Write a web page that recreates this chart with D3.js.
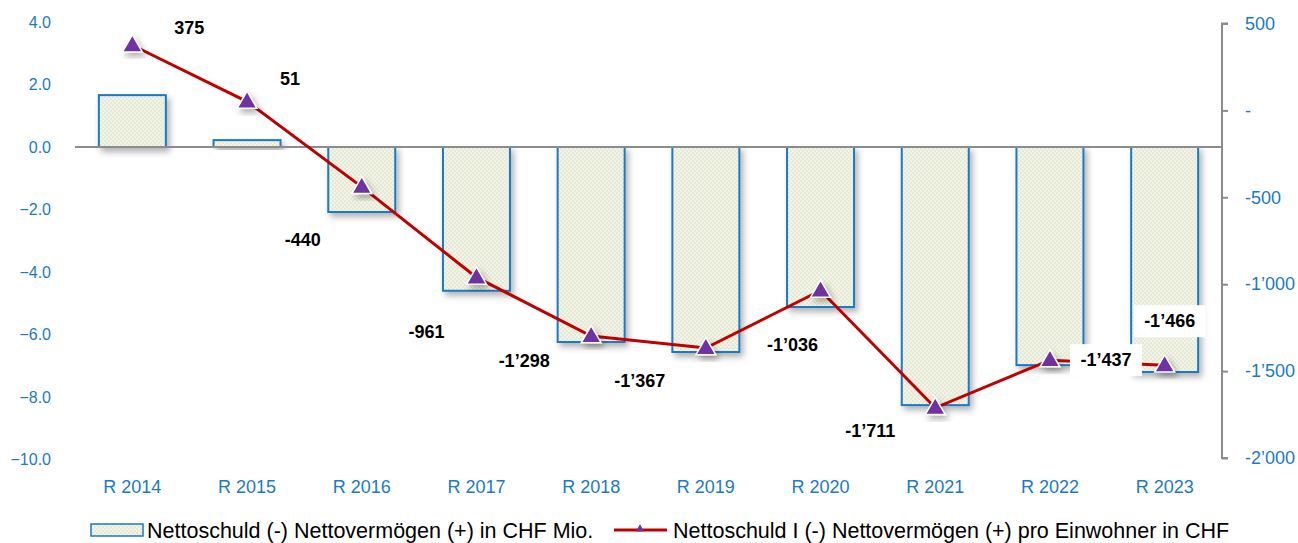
<!DOCTYPE html>
<html><head><meta charset="utf-8">
<script src="https://cdn.jsdelivr.net/npm/d3@7"></script>
<style>body{margin:0;background:#fff;font-family:"Liberation Sans",Arial,sans-serif;}</style>
</head><body>
<svg id="c" width="1298" height="543"></svg>
<script>
const categories = ["R 2014","R 2015","R 2016","R 2017","R 2018","R 2019","R 2020","R 2021","R 2022","R 2023"];
const barValues = [1.66, 0.22, -2.08, -4.6, -6.24, -6.56, -5.12, -8.26, -6.98, -7.2];
const lineValues = [375, 51, -440, -961, -1298, -1367, -1036, -1711, -1437, -1466];
const lineLabels = ["375","51","-440","-961","-1’298","-1’367","-1’036","-1’711","-1’437","-1’466"];
const leftTicks = [4, 2, 0, -2, -4, -6, -8, -10];
const rightTicks = [500, 0, -500, -1000, -1500, -2000];
const rightTickLabels = ["500","-","-500","-1’000","-1’500","-2’000"];
const seriesNames = ["Nettoschuld (-) Nettovermögen (+) in CHF Mio.","Nettoschuld I (-) Nettovermögen (+) pro Einwohner in CHF"];
// label offsets (styling)
const labelDx = [57, 43, -59, -50, -67, -66, -28, -65, 56, 5];
const labelDy = [-18, -23, 53, 54, 25, 33, 54, 23, 0, -44];
const labelBg = [false,false,false,false,false,false,false,false,true,true];

const svg = d3.select("#c");
const blue = "#1a7ac4";
const defs = svg.append("defs");
const pat = defs.append("pattern").attr("id","chk").attr("width",4).attr("height",4).attr("patternUnits","userSpaceOnUse");
pat.append("rect").attr("width",4).attr("height",4).attr("fill","#f2f4e8");
pat.append("rect").attr("width",2).attr("height",2).attr("fill","#e6e9d6");
pat.append("rect").attr("x",2).attr("y",2).attr("width",2).attr("height",2).attr("fill","#e6e9d6");
const f = defs.append("filter").attr("id","sh").attr("x","-20%").attr("y","-20%").attr("width","160%").attr("height","160%");
f.append("feDropShadow").attr("dx",3).attr("dy",4).attr("stdDeviation",3).attr("flood-color","#000").attr("flood-opacity",0.3);

const x = d3.scaleBand().domain(categories).range([75, 1222]).paddingInner(0.416).paddingOuter(0.208);
const yL = d3.scaleLinear().domain([-10, 4]).range([459.5, 22]);
const yR = d3.scaleLinear().domain([-2000, 500]).range([458, 23.5]);

// left axis labels
svg.append("g").selectAll("text").data(leftTicks).join("text")
  .attr("x", 51).attr("y", d => yL(d)).attr("dy","0.35em").attr("text-anchor","end")
  .attr("fill", blue).attr("font-size", 16).text(d => d3.format(".1f")(d));

// bars
svg.append("g").selectAll("rect").data(barValues).join("rect")
  .attr("x",(d,i)=>x(categories[i])).attr("width",x.bandwidth())
  .attr("y",d=>yL(Math.max(0,d))).attr("height",d=>Math.abs(yL(d)-yL(0)))
  .attr("fill","url(#chk)").attr("stroke",blue).attr("stroke-width",2).attr("filter","url(#sh)");

// zero line
svg.append("line").attr("x1",75).attr("x2",1222).attr("y1",yL(0)).attr("y2",yL(0)).attr("stroke","#8c8c8c").attr("stroke-width",2);

// right axis
const ra = d3.axisRight(yR).tickValues(rightTicks).tickSize(6).tickFormat((d,i)=>rightTickLabels[i]);
const rg = svg.append("g").attr("transform","translate(1222,0)").call(ra);
rg.select(".domain").attr("stroke","#8c8c8c").attr("stroke-width",2).attr("d","M6,23.5H0V458H6");
rg.selectAll(".tick line").attr("stroke","#8c8c8c").attr("stroke-width",2);
rg.selectAll(".tick text").attr("fill",blue).attr("font-size",18).attr("x",23).attr("font-family","Liberation Sans, Arial, sans-serif");

// x labels
svg.append("g").selectAll("text").data(categories).join("text")
  .attr("x",d=>x(d)+x.bandwidth()/2).attr("y",493).attr("text-anchor","middle")
  .attr("fill",blue).attr("font-size",18).text(d=>d);

// line
const cx = i => x(categories[i]) + x.bandwidth()/2;
const line = d3.line().x((d,i)=>cx(i)).y(d=>yR(d));
svg.append("path").datum(lineValues).attr("d",line).attr("fill","none").attr("stroke","#c00000").attr("stroke-width",3);

// markers
const tri = d3.symbol().type(d3.symbolTriangle).size(170);
svg.append("g").selectAll("path").data(lineValues).join("path")
  .attr("d",tri).attr("transform",(d,i)=>`translate(${cx(i)},${yR(d)+1})`)
  .attr("fill","#7030a0").attr("stroke","#fff").attr("stroke-width",1.5).attr("filter","url(#sh)");

// labels
const lg = svg.append("g");
lineValues.forEach((v,i)=>{
  const lx = cx(i)+labelDx[i], ly = yR(v)+labelDy[i];
  if (labelBg[i]) {
    lg.append("rect").attr("x",lx-36).attr("y",ly-16).attr("width",72).attr("height",32).attr("fill","#fff");
  }
  lg.append("text").attr("x",lx).attr("y",ly).attr("dy","0.35em").attr("text-anchor","middle")
    .attr("font-weight","bold").attr("font-size",18).attr("fill","#000").text(lineLabels[i]);
});

// legend
const leg = svg.append("g");
leg.append("rect").attr("x",91).attr("y",524).attr("width",52).attr("height",12).attr("fill","url(#chk)").attr("stroke",blue).attr("stroke-width",1.5);
leg.append("text").attr("x",147).attr("y",530).attr("dy","0.35em").attr("font-size",21.5).attr("fill","#000").text(seriesNames[0]);
leg.append("line").attr("x1",614).attr("x2",667).attr("y1",530).attr("y2",530).attr("stroke","#c00000").attr("stroke-width",3);
leg.append("path").attr("d",d3.symbol().type(d3.symbolTriangle).size(30)).attr("transform","translate(640,529)").attr("fill","#7030a0");
leg.append("text").attr("x",673).attr("y",530).attr("dy","0.35em").attr("font-size",21.5).attr("fill","#000").text(seriesNames[1]);
</script>
</body></html>
